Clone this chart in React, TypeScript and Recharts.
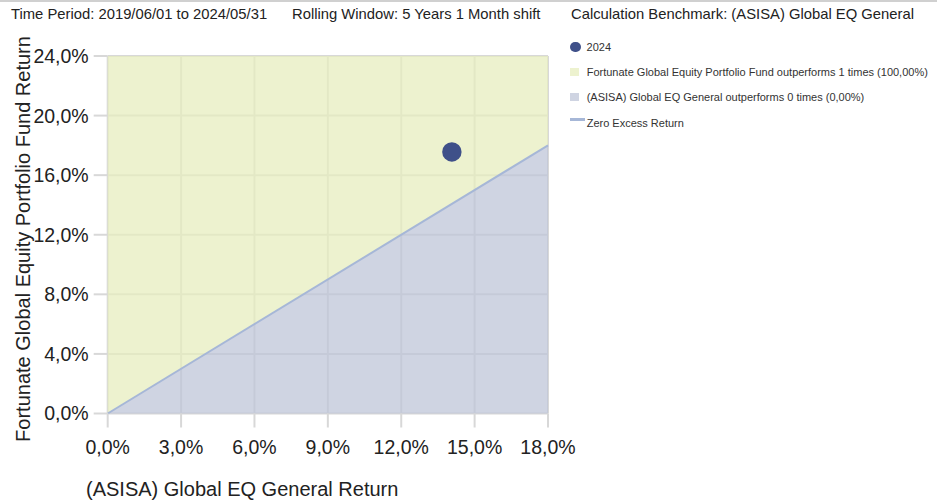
import React from 'react';
import { ComposedChart, Area, Scatter, XAxis, YAxis, CartesianGrid, Legend, Label } from 'recharts';

const headerTexts = [
  'Time Period: 2019/06/01 to 2024/05/31',
  'Rolling Window: 5 Years 1 Month shift',
  'Calculation Benchmark: (ASISA) Global EQ General',
];
const headerLeft = [11, 292, 571];

const xTicks = [0, 3, 6, 9, 12, 15, 18];
const yTicks = [0, 4, 8, 12, 16, 20, 24];
const diagonalX = [0, 18];
const diagonalY = [0, 18];
const yMax = 24;

const pointNames = ['2024'];
const pointX = [14.07];
const pointY = [17.56];

const legendLabels = [
  '2024',
  'Fortunate Global Equity Portfolio Fund outperforms 1 times (100,00%)',
  '(ASISA) Global EQ General outperforms 0 times (0,00%)',
  'Zero Excess Return',
];
const legendKinds = ['circle', 'square', 'square', 'line'];

const xTitle = '(ASISA) Global EQ General Return';
const yTitle = 'Fortunate Global Equity Portfolio Fund Return';

// solid-looking colours (for legend) and translucent fills (so the grid shows through)
const GREEN = '#edf2cf';
const LAVENDER = '#cfd4e2';
const GREEN_FILL = '#e7eebf';
const LAVENDER_FILL = '#bfc6d8';
const FILL_OPACITY = 0.75;
const LINE = '#a6b7d7';
const DOT = '#3f5089';
const GRID = '#d8d8d8';
const FONT = 'Arial, "Liberation Sans", Helvetica, sans-serif';

const areaData = diagonalX.map((x, i) => ({ x, diag: diagonalY[i], upper: [diagonalY[i], yMax] }));
const scatterData = pointNames.map((name, i) => ({ name, x: pointX[i], y: pointY[i] }));
const legendColors = [DOT, GREEN, LAVENDER, LINE];

const fmt = (v: number) => v.toFixed(1).replace('.', ',') + '%';

const LegendContent = () => (
  <div style={{ fontFamily: FONT, fontSize: 11, color: '#333' }}>
    {legendLabels.map((label, i) => {
      const kind = legendKinds[i];
      let marker: React.ReactNode;
      if (kind === 'circle') {
        marker = <span style={{ display: 'inline-block', width: 10.6, height: 10.6, borderRadius: '50%', background: legendColors[i], marginRight: 6 }} />;
      } else if (kind === 'square') {
        marker = <span style={{ display: 'inline-block', width: 9, height: 8, background: legendColors[i], marginRight: 7.7 }} />;
      } else {
        marker = <span style={{ display: 'inline-block', width: 15, height: 3.4, background: legendColors[i], marginRight: 1.7, position: 'relative', top: -3 }} />;
      }
      return (
        <div key={i} style={{ display: 'flex', alignItems: 'center', height: 25.2, whiteSpace: 'nowrap' }}>
          {marker}
          <span>{label}</span>
        </div>
      );
    })}
  </div>
);

const YTitle = () => (
  <text x={29.5} y={239} transform="rotate(-90, 29.5, 239)" textAnchor="middle" fontSize={20} fontFamily={FONT} fill="#222">
    {yTitle}
  </text>
);

const XTitle = () => (
  <text x={86} y={495.7} textAnchor="start" fontSize={20} fontFamily={FONT} fill="#222">
    {xTitle}
  </text>
);

export default function App() {
  return (
    <div style={{ position: 'absolute', left: 0, top: 0, width: 937, height: 502, background: '#fff', fontFamily: FONT }}>
      <div style={{ position: 'absolute', left: 0, top: 0, width: 937, height: 2, background: '#d0d0d0' }} />
      {headerTexts.map((t, i) => (
        <span key={i} style={{ position: 'absolute', left: headerLeft[i], top: 6.5, fontSize: 14.8, lineHeight: 1, color: '#222', whiteSpace: 'nowrap' }}>
          {t}
        </span>
      ))}
      <div style={{ position: 'absolute', left: 0, top: 0 }}>
        <ComposedChart width={937} height={502} data={areaData} margin={{ top: 56, right: 389, bottom: 0, left: 0 }}>
          <CartesianGrid stroke={GRID} strokeWidth={2} horizontalValues={yTicks} verticalValues={xTicks} />
          <XAxis
            type="number"
            dataKey="x"
            domain={[0, 18]}
            ticks={xTicks}
            tickFormatter={fmt}
            axisLine={false}
            tickLine={{ stroke: GRID, strokeWidth: 2 }}
            tickSize={14}
            tickMargin={13}
            height={88.5}
            interval={0}
            tick={{ fontSize: 19.5, fontFamily: FONT, fill: '#222' }}
          >
            <Label content={XTitle} />
          </XAxis>
          <YAxis
            type="number"
            dataKey="y"
            domain={[0, 24]}
            ticks={yTicks}
            tickFormatter={fmt}
            axisLine={false}
            tickLine={{ stroke: GRID, strokeWidth: 2 }}
            tickSize={14}
            tickMargin={5}
            width={107.7}
            interval={0}
            tick={{ fontSize: 19.5, fontFamily: FONT, fill: '#222' }}
          >
            <Label content={YTitle} />
          </YAxis>
          <Area type="linear" dataKey="upper" fill={GREEN_FILL} fillOpacity={FILL_OPACITY} stroke="none" isAnimationActive={false} legendType="none" />
          <Area type="linear" dataKey="diag" fill={LAVENDER_FILL} fillOpacity={FILL_OPACITY} stroke={LINE} strokeWidth={2} isAnimationActive={false} legendType="none" />
          <Scatter
            data={scatterData}
            fill={DOT}
            isAnimationActive={false}
            shape={(p: any) => <circle cx={p.cx} cy={p.cy} r={9.7} fill={DOT} />}
          />
          <Legend
            layout="vertical"
            align="center"
            verticalAlign="middle"
            content={LegendContent}
            wrapperStyle={{ position: 'absolute', left: 570, top: 34.5, width: 367, height: 'auto' }}
          />
        </ComposedChart>
      </div>
    </div>
  );
}
